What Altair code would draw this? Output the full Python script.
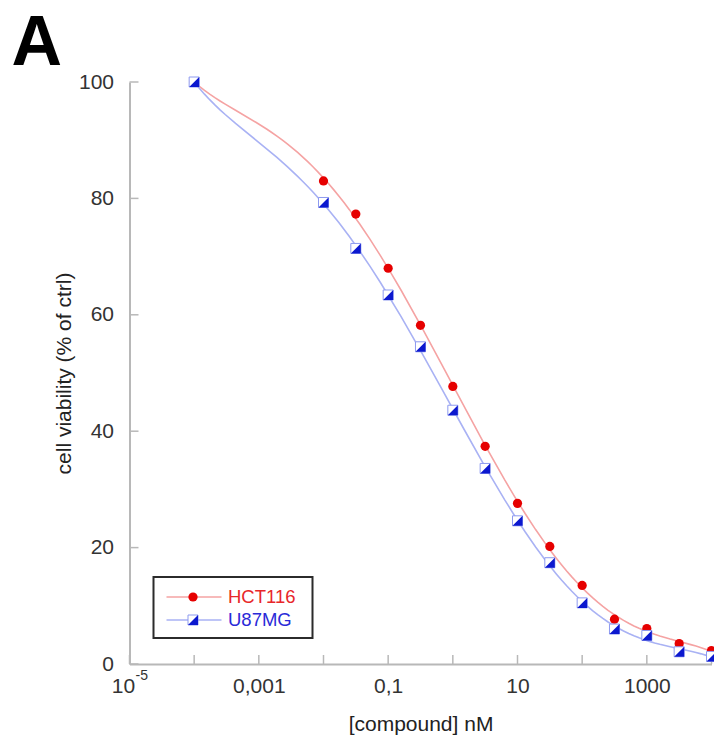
import altair as alt
import pandas as pd

# ---- data ----
conc = [1e-4, 0.01, 0.0316, 0.1, 0.316, 1, 3.16, 10, 31.6, 100, 316, 1000, 3162, 10000]
hct116 = [100, 83.0, 77.3, 68.0, 58.2, 47.7, 37.4, 27.6, 20.2, 13.5, 7.7, 6.1, 3.5, 2.3]
u87mg = [100, 79.3, 71.4, 63.4, 54.5, 43.6, 33.6, 24.6, 17.4, 10.5, 6.0, 4.9, 2.1, 1.3]
series = ["HCT116", "U87MG"]
x_tick_values = [1e-5, 1e-4, 1e-3, 1e-2, 1e-1, 1, 10, 100, 1000, 10000]
x_label_values = [1e-3, 0.1, 10, 1000]
y_tick_values = [0, 20, 40, 60, 80, 100]

RED = "#e60000"
RED_LINE = "#f5a3a3"
BLUE = "#0c18cf"
BLUE_LINE = "#a9b2f4"
BLUE_EDGE = "#8d9af0"
FONT = "Liberation Sans"

df_h = pd.DataFrame({"conc": conc, "val": hct116})
df_u = pd.DataFrame({"conc": conc, "val": u87mg})
df_xt = pd.DataFrame({"conc": x_tick_values})
df_yt = pd.DataFrame({"val": y_tick_values})
df_one = pd.DataFrame({"a": [0]})
df_exp = pd.DataFrame({"conc": [1e-5], "base": ["10"], "sup": ["-5"]})

W, H = 582, 582

x_enc = alt.X(
    "conc:Q",
    scale=alt.Scale(type="log", domain=[1e-5, 1e4], nice=False),
    axis=alt.Axis(
        values=x_label_values,
        labelExpr="replace(toString(datum.value), '.', ',')",
        title="[compound] nM",
        grid=False,
        ticks=False,
        tickSize=0,
        labelPadding=11,
        titlePadding=17,
        labelFlush=False,
    ),
)
y_enc = alt.Y(
    "val:Q",
    scale=alt.Scale(domain=[0, 100], nice=False),
    axis=alt.Axis(
        values=y_tick_values,
        title="cell viability (% of ctrl)",
        grid=False,
        ticks=False,
        tickSize=0,
        labelPadding=16,
        titlePadding=4,
        labelFlush=False,
    ),
)


def fitted(df, color):
    # smooth fitted curve computed by Vega's regression transform (log-x space)
    return (
        alt.Chart(df)
        .transform_calculate(lx="log(datum.conc) / LN10")
        .transform_regression("lx", "val", method="poly", order=5, extent=[-4, 4])
        .transform_calculate(conc="pow(10, datum.lx)")
        .mark_line(color=color, strokeWidth=1.6)
        .encode(x=x_enc, y=y_enc)
    )


line_h = fitted(df_h, RED_LINE)
line_u = fitted(df_u, BLUE_LINE)
pts_h = alt.Chart(df_h).mark_circle(size=85, color=RED, opacity=1).encode(x=x_enc, y=y_enc)
sq_u = alt.Chart(df_u).mark_point(shape="square", size=100, filled=True, fill="white",
                                  stroke=BLUE_EDGE, strokeWidth=1, opacity=1).encode(x=x_enc, y=y_enc)
tri_u = alt.Chart(df_u).mark_point(shape="M1,-1L1,1L-1,1Z", size=100, filled=True, fill=BLUE,
                                   strokeWidth=0, opacity=1).encode(x=x_enc, y=y_enc)

# inside ticks
xticks = alt.Chart(df_xt).mark_rule(color="#b8b8b8", strokeWidth=1.5).encode(
    x=x_enc, y=alt.value(H), y2=alt.value(H - 9))
yticks = alt.Chart(df_yt).mark_rule(color="#b8b8b8", strokeWidth=1.5).encode(
    y=y_enc, x=alt.value(0), x2=alt.value(9))

# 10^-5 label
exp_base = alt.Chart(df_exp).mark_text(font=FONT, fontSize=21, color="#333333", align="center",
                                       baseline="alphabetic", dx=-6).encode(
    x=x_enc, y=alt.value(611), text="base:N")
exp_sup = alt.Chart(df_exp).mark_text(font=FONT, fontSize=14, color="#333333", align="left",
                                      baseline="alphabetic", dx=6).encode(
    x=x_enc, y=alt.value(598), text="sup:N")

# legend (drawn by hand)
leg_box = alt.Chart(df_one).mark_rect(fill="white", stroke="#2b2b2b", strokeWidth=2).encode(
    x=alt.value(24), x2=alt.value(183), y=alt.value(495), y2=alt.value(556))
leg_line_h = alt.Chart(df_one).mark_rule(color=RED_LINE, strokeWidth=1.6).encode(
    x=alt.value(37), x2=alt.value(92), y=alt.value(515))
leg_line_u = alt.Chart(df_one).mark_rule(color=BLUE_LINE, strokeWidth=1.6).encode(
    x=alt.value(37), x2=alt.value(92), y=alt.value(538))
leg_pt_h = alt.Chart(df_one).mark_circle(size=85, color=RED, opacity=1).encode(
    x=alt.value(63.5), y=alt.value(515))
leg_sq_u = alt.Chart(df_one).mark_point(shape="square", size=100, filled=True, fill="white",
                                        stroke=BLUE_EDGE, strokeWidth=1, opacity=1).encode(
    x=alt.value(63.5), y=alt.value(538))
leg_tri_u = alt.Chart(df_one).mark_point(shape="M1,-1L1,1L-1,1Z", size=100, filled=True, fill=BLUE,
                                         strokeWidth=0, opacity=1).encode(
    x=alt.value(63.5), y=alt.value(538))
leg_txt_h = alt.Chart(pd.DataFrame({"s": [series[0]]})).mark_text(
    font=FONT, fontSize=18.5, color="#e8262a", align="left", baseline="middle").encode(
    x=alt.value(98.5), y=alt.value(515), text="s:N")
leg_txt_u = alt.Chart(pd.DataFrame({"s": [series[1]]})).mark_text(
    font=FONT, fontSize=18.5, color="#2a2ad8", align="left", baseline="middle").encode(
    x=alt.value(98.5), y=alt.value(538), text="s:N")

panel = alt.Chart(pd.DataFrame({"t": ["A"]})).mark_text(
    font=FONT, fontSize=70, fontWeight="bold", color="black", align="left", baseline="alphabetic").encode(
    x=alt.value(-118), y=alt.value(-17), text="t:N")

chart = alt.layer(
    line_h, line_u, xticks, yticks, pts_h, sq_u, tri_u, exp_base, exp_sup,
    leg_box, leg_line_h, leg_line_u, leg_pt_h, leg_sq_u, leg_tri_u, leg_txt_h, leg_txt_u, panel,
).properties(
    width=W, height=H,
    background="white",
    autosize=alt.AutoSizeParams(type="none"),
    padding={"left": 121.5, "top": 74, "right": 2, "bottom": 71},
).configure_view(stroke=None).configure_axis(
    domainColor="#b8b8b8", domainWidth=2,
    labelColor="#333333", labelFont=FONT, labelFontSize=21,
    titleColor="#222222", titleFont=FONT, titleFontSize=21, titleFontWeight="normal",
)

chart.save("out.html", embed_options={"renderer": "svg", "actions": False})
